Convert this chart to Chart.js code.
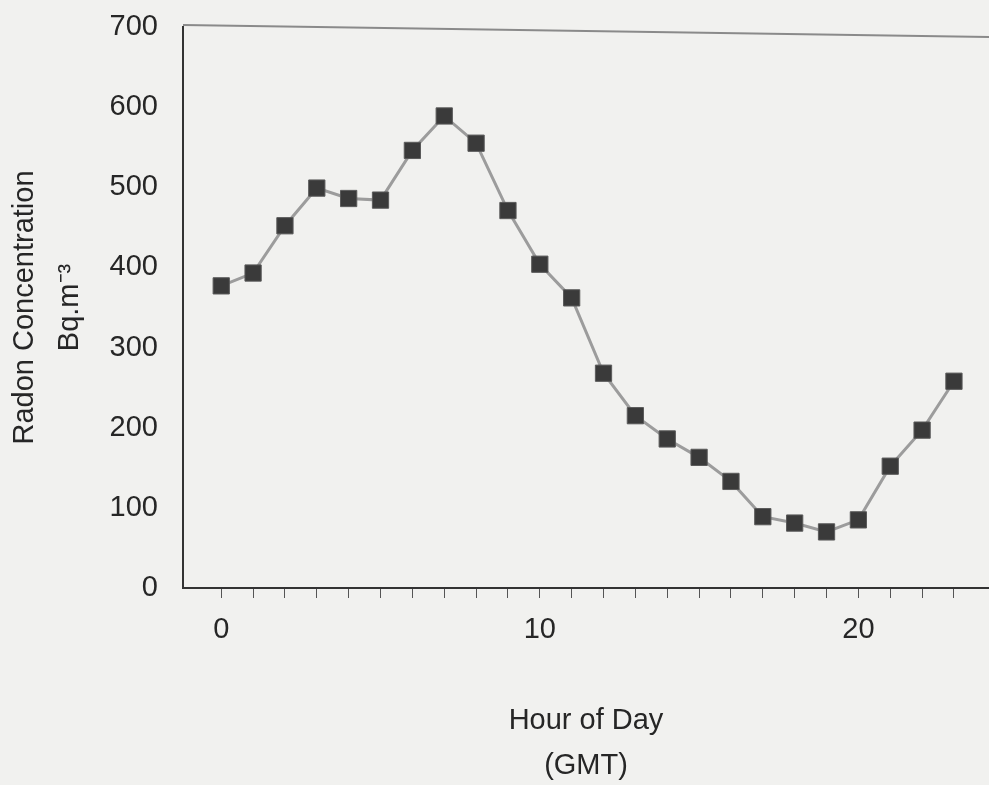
<!DOCTYPE html>
<html>
<head>
<meta charset="utf-8">
<script src="https://cdn.jsdelivr.net/npm/chart.js@4.4.1/dist/chart.umd.min.js"></script>
<style>
  html, body { margin: 0; padding: 0; background: #f1f1ef; }
  #wrap { width: 989px; height: 785px; }
</style>
</head>
<body>
<div id="wrap"><canvas id="radon" width="989" height="785"></canvas></div>
<script>
// hourly radon readings
const hours = [0, 1, 2, 3, 4, 5, 6, 7, 8, 9, 10, 11, 12, 13, 14, 15, 16, 17, 18, 19, 20, 21, 22, 23];
const radon = [377, 393, 452, 499, 486, 484, 546, 589, 555, 471, 404, 362, 268, 215, 186, 163, 133, 89, 81, 70, 85, 152, 197, 258];
const xLabels = [0, 10, 20];
const yTicks = [0, 100, 200, 300, 400, 500, 600, 700];

const font = { family: 'Liberation Sans, Arial, sans-serif', size: 29 };
const ink = '#262626';

// thin grey frame line along the top of the plot (slightly skewed in the scan)
const topLine = {
  id: 'topLine',
  afterDraw(chart) {
    const { ctx, chartArea } = chart;
    ctx.save();
    ctx.strokeStyle = '#8a8a8a';
    ctx.lineWidth = 2;
    ctx.beginPath();
    ctx.moveTo(chartArea.left, chartArea.top - 2);
    ctx.lineTo(chartArea.right, chartArea.top + 10);
    ctx.stroke();
    ctx.restore();
  }
};

new Chart(document.getElementById('radon'), {
  type: 'line',
  data: {
    datasets: [{
      data: hours.map((h, i) => ({ x: h, y: radon[i] })),
      borderColor: '#9c9c9c',
      borderWidth: 3,
      tension: 0,
      pointStyle: 'rect',
      pointRadius: 11.5,
      pointBackgroundColor: '#3a3a3a',
      pointBorderColor: '#5a5a5a',
      pointBorderWidth: 1
    }]
  },
  options: {
    responsive: false,
    animation: false,
    layout: { autoPadding: false, padding: { top: 27, right: 0, bottom: 0, left: 0 } },
    plugins: { legend: { display: false }, tooltip: { enabled: false } },
    scales: {
      x: {
        type: 'linear',
        min: -1.2,
        max: 24.1,
        afterFit: s => { s.height = 197; s.paddingLeft = 0; s.paddingRight = 0; },
        afterBuildTicks: s => { s.ticks = hours.map(v => ({ value: v })); },
        border: { display: true, color: '#333', width: 2 },
        grid: { drawOnChartArea: false, drawTicks: true, tickLength: 10, color: '#555', lineWidth: 1 },
        ticks: {
          padding: 15,
          color: ink,
          font: font,
          maxRotation: 0,
          autoSkip: false,
          callback: v => xLabels.includes(v) ? String(v) : ''
        },
        title: {
          display: true,
          text: ['Hour of Day', '(GMT)'],
          color: ink,
          font: { ...font, lineHeight: 1.53 },
          padding: { top: 0, bottom: -3 }
        }
      },
      y: {
        min: 0,
        max: 700,
        afterFit: s => { s.width = 183; s.paddingTop = 0; s.paddingBottom = 0; },
        afterBuildTicks: s => { s.ticks = yTicks.map(v => ({ value: v })); },
        border: { display: true, color: '#333', width: 2 },
        grid: { display: false, drawTicks: false },
        ticks: { padding: 25, color: ink, font: font },
        title: {
          display: true,
          text: ['Radon Concentration', 'Bq.m\u207B\u00B3'],
          color: ink,
          font: { ...font, lineHeight: 1.55 },
          padding: { top: 3, bottom: 0 }
        }
      }
    }
  },
  plugins: [topLine]
});
</script>
</body>
</html>
